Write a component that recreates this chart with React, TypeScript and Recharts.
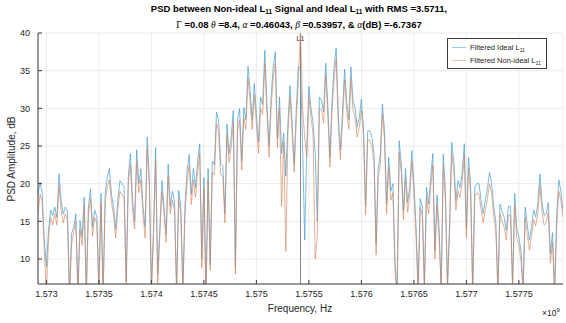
import { LineChart, Line, XAxis, YAxis, CartesianGrid, ReferenceLine } from "recharts";

// frequency grid of the PSD estimate (Hz)
const startHz = 1.57292e9;
const stepHz = 2e4;
const endHz = 1.57792e9;
const l1Hz = 1.57542e9;

const freqTicks = [1.573e9, 1.5735e9, 1.574e9, 1.5745e9, 1.575e9, 1.5755e9, 1.576e9, 1.5765e9, 1.577e9, 1.5775e9];
const dbTicks = [10, 15, 20, 25, 30, 35, 40];

// filtered ideal L11 PSD, dB
const idealPsd = [
	18.5, 20.2, 18.7, 12.5, 9, 13.8, 16.5, 15.8, 16.9, 15.5,
	21.3, 17.8, 16, 16.9, 16.5, 5.5, 13.4, 14.2, 16, 5.5,
	15.1, 12.9, 18.2, 5.8, 16.9, 19.3, 14.2, 16.5, 15.6, 6,
	18.7, 5.5, 18.7, 20.9, 22, 18.5, 16.9, 14, 17.8, 20.4,
	20, 19.6, 7, 21, 24, 18, 15, 24.5, 20, 22,
	17, 14.2, 26.2, 20.8, 6, 14, 24.8, 8, 14, 20.4,
	17, 13.3, 22.6, 17, 19, 17.7, 6, 19.1, 16.9, 6,
	17.3, 21.7, 23.9, 18.6, 22, 19.5, 23, 25.3, 10, 20.8,
	5.5, 22, 9.3, 23, 22.5, 29.5, 28.4, 22.6, 22.4, 16,
	27.9, 24, 26.2, 29.7, 9, 28.5, 30, 23, 30.1, 28.5,
	35.6, 32.4, 28.5, 33.3, 29.3, 25.5, 31.5, 30.5, 37.7, 30.7,
	25, 31.5, 35.5, 37.5, 26, 31.5, 24, 26.7, 21, 28,
	33, 28, 22.5, 30, 35.5, 35.3, 25, 12.5, 24.9, 32.9,
	30, 28, 24, 15, 31.5, 31, 29.5, 36, 30.5, 23.5,
	31, 35.5, 38, 29, 24.5, 29.5, 35.2, 31, 28.5, 35.5,
	31, 30, 27.5, 28.8, 31.2, 27.5, 17, 27, 27, 26.2,
	24, 12, 22, 23.9, 30.6, 27, 17.3, 23.5, 19, 20,
	9.8, 5.5, 25.7, 22.6, 16.4, 22, 17.5, 19.5, 24.4, 20,
	14.5, 6, 18, 17, 6.5, 19.5, 17.3, 20.8, 24, 11.1,
	18.5, 14, 6, 23.9, 19, 6.5, 15, 25.5, 23, 17.7,
	20.4, 19.5, 21.5, 25.3, 14, 23.5, 20, 6, 19.6, 20,
	20, 17.8, 16, 17.8, 19.3, 21.5, 20, 17, 15, 6,
	17.3, 16.3, 15.5, 13.8, 17, 17, 6.5, 18.7, 14, 13,
	11, 6, 16.9, 14.5, 12.5, 14.2, 16.5, 15.6, 17.3, 21.3,
	17.5, 15.8, 16, 17.5, 10.7, 13.5, 6, 15.6, 20.5, 19,
	16.5,
];

// filtered non-ideal L11 PSD, dB
const nonIdealPsd = [
	16, 18.6, 17.5, 11, 5.5, 12.5, 15.5, 14.5, 16, 14.5,
	19.8, 16.5, 14.8, 16, 15.2, 5, 12, 13.5, 15, 5,
	14, 11.8, 17, 5.2, 15.8, 18, 13, 15.5, 14.8, 5.5,
	17.5, 5, 17.5, 19.5, 20.5, 17.5, 15.8, 12.8, 16.5, 19,
	18.5, 18.2, 6.2, 19.8, 22.5, 16.5, 14, 23, 18.8, 20.5,
	15.8, 12.8, 24.8, 19.5, 5.5, 13, 23.2, 6.5, 13, 19,
	16, 12.2, 21, 16, 17.8, 16.5, 5.5, 18, 15.8, 5.5,
	16, 20.2, 22.5, 17.2, 20.5, 18.2, 21.5, 24, 8.8, 19.5,
	5, 20.5, 8.5, 21.5, 21.2, 28, 27, 21.2, 21, 14.8,
	26.5, 22.8, 24.8, 28.2, 8, 27, 28.5, 21.8, 28.8, 27.2,
	34, 31, 27.2, 31.8, 28, 24, 30, 29.2, 36, 29.5,
	23.5, 30, 34, 36, 24.8, 30, 17, 25.5, 11, 26.5,
	31.5, 26.8, 21.5, 28.5, 34, 40.5, 30, 26, 23.5, 31.5,
	28.8, 26.5, 10, 13, 30, 29.8, 28, 34.5, 29.2, 22.2,
	29.5, 34, 36.5, 27.8, 23.2, 28.2, 33.8, 29.8, 27.2, 34,
	29.8, 28.8, 26.2, 27.5, 29.8, 26.2, 15.8, 25.8, 25.8, 25,
	22.8, 10.5, 20.8, 22.5, 29.2, 25.8, 16, 22.2, 17.8, 18.8,
	8.5, 5, 24.2, 21.5, 15.2, 20.8, 16.2, 18.2, 23, 18.8,
	13.2, 5.5, 16.8, 15.8, 6, 18.2, 16, 19.5, 22.5, 10,
	17.2, 12.8, 5.5, 22.5, 17.8, 6, 13.8, 24, 21.8, 16.5,
	19, 18.2, 20.2, 23.8, 12.8, 22, 18.8, 5.5, 18.2, 18.8,
	18.6, 16.5, 14.8, 16.5, 18, 20, 18.8, 15.8, 13.8, 5.5,
	16, 15, 14.2, 12.5, 15.8, 15.8, 6, 17.2, 12.8, 11.8,
	9.8, 5.5, 15.5, 13.2, 11.2, 13, 15.2, 14.4, 16, 19.8,
	16.2, 14.5, 14.8, 16.2, 9.5, 12.2, 5.5, 14.2, 19, 17.8,
	15.5,
];

const rows = idealPsd.map((v, i) => ({
	freq: startHz + i * stepHz,
	ideal: v,
	nonIdeal: nonIdealPsd[i],
}));

const idealColor = "#3b9ad0";
const nonIdealColor = "#d7835a";
const axisColor = "#3c3c3c";
const textColor = "#262626";
const sans = "'Liberation Sans', Arial, Helvetica, sans-serif";
const serif = "'Liberation Serif', 'Times New Roman', serif";

const fmtGHz = (v: number) => (v / 1e9).toFixed(4).replace(/0+$/, "");
const noTick = () => <g />;

const Sub = ({ children }: { children: string }) => (
	<span style={{ fontSize: "0.68em", position: "relative", top: "0.35em" }}>{children}</span>
);

export default function App() {
	return (
		<div style={{ position: "absolute", left: 0, top: 0, width: 566, height: 323, background: "#fff", fontFamily: sans }}>
			<div
				style={{
					position: "absolute",
					left: 32,
					top: 1,
					width: 534,
					textAlign: "center",
					fontWeight: "bold",
					fontSize: 9.5,
					lineHeight: "15px",
					color: "#000",
					whiteSpace: "nowrap",
				}}>
				<div>
					PSD between Non-ideal L<Sub>11</Sub> Signal and Ideal L<Sub>11</Sub> with RMS =3.5711,
				</div>
				<div>
					<span style={{ fontFamily: serif, fontWeight: "normal" }}>Γ</span> =0.08{" "}
					<i style={{ fontFamily: serif, fontWeight: "normal" }}>θ</i> =8.4,{" "}
					<i style={{ fontFamily: serif, fontWeight: "normal" }}>α</i> =0.46043,{" "}
					<i style={{ fontFamily: serif, fontWeight: "normal" }}>β</i> =0.53957, &amp;{" "}
					<i style={{ fontFamily: serif, fontWeight: "normal" }}>α</i>(dB) =-6.7367
				</div>
			</div>

			<LineChart
				width={566}
				height={323}
				data={rows}
				margin={{ top: 33, right: 3, left: 0, bottom: 0 }}>
				<CartesianGrid stroke="#e6e6e6" strokeWidth={0.8} />
				<XAxis
					dataKey="freq"
					type="number"
					domain={[startHz, endHz]}
					ticks={freqTicks}
					tickFormatter={fmtGHz}
					allowDataOverflow
					height={39}
					tickSize={-4}
					tickMargin={11}
					stroke={axisColor}
					tick={{ fill: textColor, fontSize: 9, fontFamily: sans }}
				/>
				<XAxis
					xAxisId="top"
					orientation="top"
					type="number"
					domain={[startHz, endHz]}
					ticks={freqTicks}
					allowDataOverflow
					height={0}
					tickSize={-4}
					stroke={axisColor}
					tick={noTick}
				/>
				<YAxis
					type="number"
					domain={[6.68, 40]}
					ticks={dbTicks}
					allowDataOverflow
					width={38}
					tickSize={-4}
					tickMargin={12}
					stroke={axisColor}
					tick={{ fill: textColor, fontSize: 9, fontFamily: sans }}
				/>
				<YAxis
					yAxisId="right"
					orientation="right"
					type="number"
					domain={[6.68, 40]}
					ticks={dbTicks}
					allowDataOverflow
					width={0}
					tickSize={-4}
					stroke={axisColor}
					tick={noTick}
				/>
				<ReferenceLine
					x={l1Hz}
					stroke="#7a7a7a"
					strokeWidth={0.9}
					label={{ value: "L1", position: "insideTop", offset: 3, fontSize: 7, fill: "#333", fontFamily: sans }}
				/>
				<Line
					type="linear"
					dataKey="ideal"
					stroke={idealColor}
					strokeWidth={0.8}
					strokeOpacity={0.85}
					dot={false}
					isAnimationActive={false}
				/>
				<Line
					type="linear"
					dataKey="nonIdeal"
					stroke={nonIdealColor}
					strokeWidth={0.8}
					strokeOpacity={0.8}
					dot={false}
					isAnimationActive={false}
				/>
			</LineChart>

			{/* legend box */}
			<div
				style={{
					position: "absolute",
					left: 447,
					top: 38,
					width: 100,
					height: 31,
					border: "1px solid #3c3c3c",
					background: "#fff",
					fontSize: 7.5,
					color: textColor,
					boxSizing: "border-box",
				}}>
				{[
					{ color: idealColor, label: "Filtered Ideal L" },
					{ color: nonIdealColor, label: "Filtered Non-ideal L" },
				].map((item, i) => (
					<div key={i} style={{ position: "absolute", left: 4, top: 3 + i * 13, height: 11, display: "flex", alignItems: "center", whiteSpace: "nowrap" }}>
						<span style={{ display: "inline-block", width: 14, height: 0, borderTop: `1px solid ${item.color}`, opacity: 0.5, marginRight: 4 }} />
						<span>
							{item.label}
							<Sub>11</Sub>
						</span>
					</div>
				))}
			</div>

			<div
				style={{
					position: "absolute",
					left: 12 - 60,
					top: 158.5 - 6,
					width: 120,
					textAlign: "center",
					fontSize: 10,
					lineHeight: "12px",
					color: textColor,
					transform: "rotate(-90deg)",
				}}>
				PSD Amplitude, dB
			</div>
			<div
				style={{
					position: "absolute",
					left: 240,
					top: 303,
					width: 120,
					textAlign: "center",
					fontSize: 10,
					lineHeight: "12px",
					color: textColor,
				}}>
				Frequency, Hz
			</div>
			<div style={{ position: "absolute", left: 542, top: 307, fontSize: 8.5, color: textColor }}>
				×10<sup style={{ fontSize: "0.7em" }}>9</sup>
			</div>
		</div>
	);
}
